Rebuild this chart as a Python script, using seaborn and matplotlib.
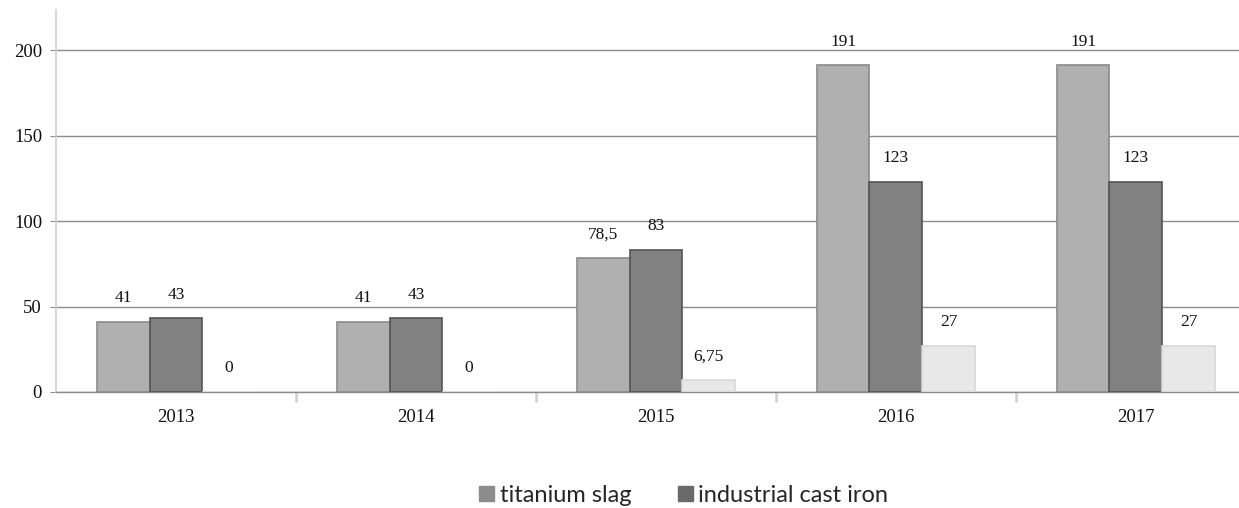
import matplotlib
matplotlib.use("Agg")
import matplotlib.pyplot as plt
import seaborn as sns
import pandas as pd
from matplotlib.patches import Patch

years = ["2013", "2014", "2015", "2016", "2017"]
series_names = ["titanium slag", "industrial cast iron", "other"]
titanium_slag = [41, 41, 78.5, 191, 191]
cast_iron = [43, 43, 83, 123, 123]
other = [0, 0, 6.75, 27, 27]
label_text = {
    "titanium slag": ["41", "41", "78,5", "191", "191"],
    "industrial cast iron": ["43", "43", "83", "123", "123"],
    "other": ["0", "0", "6,75", "27", "27"],
}
y_ticks = [0, 50, 100, 150, 200]

colors = ["#b0b0b0", "#818181", "#e8e8e8"]
edges = ["#8a8a8a", "#555555", "#d8d8d8"]
legend_colors = ["#8c8c8c", "#6a6a6a"]

rows = []
for name, vals in zip(series_names, [titanium_slag, cast_iron, other]):
    for y, v in zip(years, vals):
        rows.append({"year": y, "value": v, "series": name})
df = pd.DataFrame(rows)

sns.set_style("white")
fig = plt.figure(figsize=(12.39, 5.08), dpi=100)
ax = fig.add_axes([56 / 1239, 116 / 508, 1 - 56 / 1239, 382 / 508])

sns.barplot(data=df, x="year", y="value", hue="series", hue_order=series_names,
            order=years, palette=colors, width=0.66, gap=0, ax=ax,
            legend=False, saturation=1, zorder=3)

for i, cont in enumerate(ax.containers):
    for p in cont.patches:
        p.set_edgecolor(edges[i])
        p.set_linewidth(1.2)

serif = ["Liberation Serif", "DejaVu Serif"]
for i, cont in enumerate(ax.containers):
    name = series_names[i]
    for j, p in enumerate(cont.patches):
        x = p.get_x() + p.get_width() / 2
        h = p.get_height()
        ax.annotate(label_text[name][j], (x, h), xytext=(0, 17),
                    textcoords="offset points", ha="center", va="center",
                    fontsize=12.5, family=serif, color="#111111")

ax.set_ylim(0, 223.4)
ax.set_xlim(-0.5, 4.43)
ax.set_yticks(y_ticks)
ax.set_yticklabels([str(t) for t in y_ticks], family=serif, fontsize=13.5)
ax.set_xticks(range(len(years)))
ax.set_xticklabels(years, family=serif, fontsize=13.5)
ax.set_xlabel("")
ax.set_ylabel("")

ax.grid(axis="y", color="#8c8c8c", linewidth=1.0, zorder=0)
ax.set_axisbelow(True)
for s in ["top", "right"]:
    ax.spines[s].set_visible(False)
ax.spines["left"].set_color("#d0d0d0")
ax.spines["left"].set_linewidth(1.2)
ax.spines["bottom"].set_color("#8c8c8c")
ax.spines["bottom"].set_linewidth(1.0)

ax.tick_params(axis="y", left=True, length=4, color="#8c8c8c", pad=6, labelcolor="#111111")
ax.tick_params(axis="x", which="major", bottom=True, length=0, pad=12, labelcolor="#111111")
ax.set_xticks([k + 0.5 for k in range(len(years) - 1)], minor=True)
ax.tick_params(axis="x", which="minor", bottom=True, length=7, color="#d4d4d4", width=2)

handles = [Patch(facecolor=legend_colors[0], edgecolor=legend_colors[0]),
           Patch(facecolor=legend_colors[1], edgecolor=legend_colors[1])]
fig.legend(handles, series_names[:2], loc="center", bbox_to_anchor=(0.552, 0.024),
           ncol=2, frameon=False, handlelength=0.6, handleheight=0.6,
           handletextpad=0.25, columnspacing=2.0,
           prop={"family": ["Lato", "DejaVu Sans"], "size": 17})

fig.savefig("out.png", dpi=100)
